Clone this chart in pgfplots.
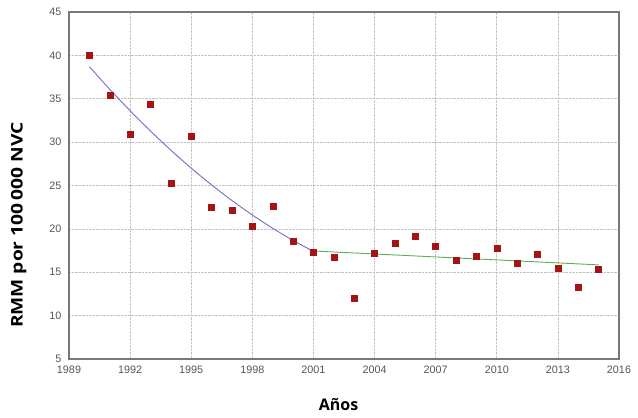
\documentclass[border=0pt]{standalone}
\usepackage{pgfplots}
\pgfplotsset{compat=1.18}
\usepackage{fontspec}
\setmainfont{Liberation Sans}
\newfontfamily\labfont{Open Sans}
\definecolor{ptred}{RGB}{165,20,20}
\definecolor{bluefit}{RGB}{110,110,200}
\definecolor{greenfit}{RGB}{90,175,90}
\definecolor{ticktext}{RGB}{85,85,85}
\definecolor{frame}{RGB}{120,120,120}
\definecolor{gridc}{RGB}{195,195,195}
\begin{document}
\begin{tikzpicture}[x=1pt,y=1pt]
\path[use as bounding box] (0,0) rectangle (638,418);
\begin{axis}[
  at={(69pt,59pt)}, anchor=south west,
  scale only axis, width=550pt, height=347pt,
  xmin=1989, xmax=2016, ymin=5, ymax=45,
  xtick={1989,1992,...,2016}, ytick={5,10,...,45},
  x tick label style={/pgf/number format/1000 sep={}, yshift=-3pt},
  y tick label style={xshift=-4pt},
  /pgf/number format/assume math mode=true,
  tick label style={font=\fontsize{10.8}{12}\selectfont, text=ticktext},
  major tick length=0pt,
  grid=major,
  major grid style={gridc, densely dotted, line width=0.6pt},
  axis line style={frame, line width=1.4pt},
  xlabel={Años},
  ylabel={\scalebox{1.2}[1]{RMM por 100\,000 NVC}},
  xlabel style={at={(axis description cs:0.49,0)}, anchor=north, yshift=-36pt, font=\labfont\bfseries\fontsize{16}{18}\selectfont},
  ylabel style={at={(axis description cs:0,0.386)}, anchor=south, yshift=39pt, font=\labfont\bfseries\fontsize{16}{18}\selectfont},
  clip=false,
]
\addplot[bluefit, line width=0.9pt, smooth] coordinates {
(1990,38.70) (1991,36.09) (1992,33.62) (1993,31.28) (1994,29.07) (1995,27.00)
(1996,25.07) (1997,23.27) (1998,21.60) (1999,20.07) (2000,18.67) (2001,17.41)};
\addplot[greenfit, line width=0.9pt] coordinates {(2001,17.45) (2015,15.85)};
\addplot[only marks, mark=square*, mark size=3pt, mark options={fill=ptred, draw=ptred}] coordinates {
(1990,40.0) (1991,35.4) (1992,30.9) (1993,34.4) (1994,25.3) (1995,30.7)
(1996,22.5) (1997,22.2) (1998,20.3) (1999,22.6) (2000,18.6) (2001,17.35)
(2002,16.7) (2003,12.05) (2004,17.2) (2005,18.4) (2006,19.2) (2007,18.0)
(2008,16.4) (2009,16.9) (2010,17.8) (2011,16.0) (2012,17.1) (2013,15.5)
(2014,13.3) (2015,15.4)};
\end{axis}
\end{tikzpicture}
\end{document}
